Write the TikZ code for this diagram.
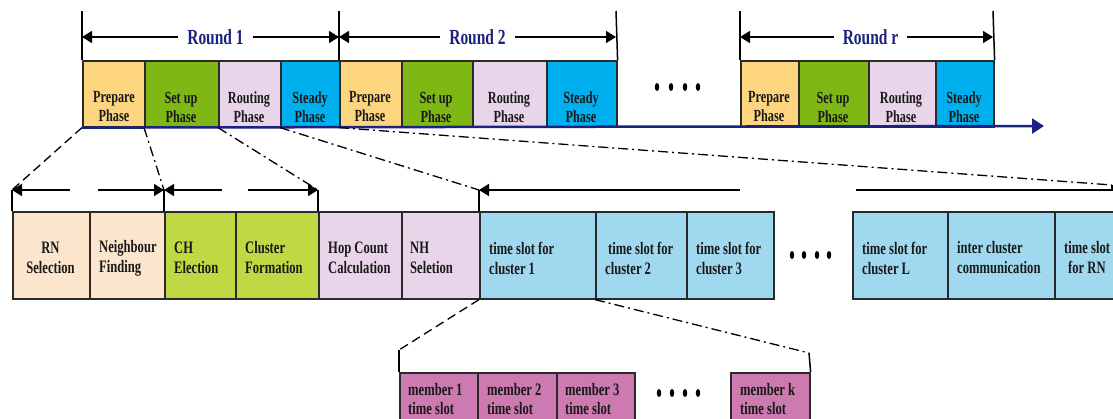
\documentclass[tikz,border=0pt]{standalone}
\usepackage{fontspec}
\setmainfont[FakeStretch=0.72]{Liberation Serif}
\usetikzlibrary{arrows.meta}
\definecolor{cprep}{HTML}{FDD57E}
\definecolor{csetup}{HTML}{7FB814}
\definecolor{crout}{HTML}{E9D5E9}
\definecolor{csteady}{HTML}{00B0EE}
\definecolor{cpeach}{HTML}{FCE5CD}
\definecolor{clime}{HTML}{C0D843}
\definecolor{cslot}{HTML}{A0D8EF}
\definecolor{cmem}{HTML}{CC7AB0}
\definecolor{cnavy}{HTML}{1A237E}
\definecolor{cborder}{HTML}{2A2A2A}
\newcommand\bx[6]{\node[box,fill=#6,anchor=north west,minimum width={(#4-#2)*1pt},minimum height={(#5-#3)*1pt}] (#1) at (#2,#3) {};}
\begin{document}
\begin{tikzpicture}[x=1pt,y=-1pt,
  box/.style={draw=cborder,line width=1.6pt,inner sep=0pt},
  phtxt/.style={font=\fontsize{17}{19}\selectfont\bfseries,align=center,inner sep=0pt,text=black!90},
  sltxt/.style={font=\fontsize{17.5}{20}\selectfont\bfseries,align=left,anchor=west,inner sep=0pt,text=black!90},
  mbtxt/.style={font=\fontsize{17.5}{18.5}\selectfont\bfseries,align=left,anchor=west,inner sep=0pt,text=black!90},
  rdtxt/.style={font=\fontsize{21.5}{24}\selectfont\bfseries,text=cnavy,fill=white,inner xsep=9pt,inner ysep=2pt},
  dimline/.style={line width=1.5pt,black},
  tip/.tip={Triangle[length=10pt,width=12pt]},
  tick/.style={line width=1.5pt,black},
  dashline/.style={line width=1.3pt,black,dash pattern=on 9pt off 5pt},
  dotline/.style={line width=1.3pt,black,dash pattern=on 10pt off 4pt on 2pt off 4pt},
  dot/.style={black}]
\useasboundingbox (0,0) rectangle (1113,418);

% ---------- top row boxes ----------
\bx{r1a}{82}{60}{144}{126}{cprep}
\bx{r1b}{144}{60}{218}{126}{csetup}
\bx{r1c}{218}{60}{280}{126}{crout}
\bx{r1d}{280}{60}{339}{126}{csteady}
\bx{r2a}{339}{60}{401}{126}{cprep}
\bx{r2b}{401}{60}{472}{126}{csetup}
\bx{r2c}{472}{60}{546}{126}{crout}
\bx{r2d}{546}{60}{616}{126}{csteady}
\bx{rra}{740}{60}{798}{126}{cprep}
\bx{rrb}{798}{60}{868}{126}{csetup}
\bx{rrc}{868}{60}{935}{126}{crout}
\bx{rrd}{935}{60}{993}{126}{csteady}

\node[phtxt] (t1a) at (114,107) {Prepare\\Phase};
\node[phtxt] (t1b) at (181,107) {Set up\\Phase};
\node[phtxt] (t1c) at (249,107) {Routing\\Phase};
\node[phtxt] (t1d) at (310,107) {Steady\\Phase};
\node[phtxt] (t2a) at (370,107) {Prepare\\Phase};
\node[phtxt] (t2b) at (436,107) {Set up\\Phase};
\node[phtxt] (t2c) at (509,107) {Routing\\Phase};
\node[phtxt] (t2d) at (581,107) {Steady\\Phase};
\node[phtxt] (tra) at (769,107) {Prepare\\Phase};
\node[phtxt] (trb) at (833,107) {Set up\\Phase};
\node[phtxt] (trc) at (901,107) {Routing\\Phase};
\node[phtxt] (trd) at (964,107) {Steady\\Phase};

% dots row 1
\foreach \x in {657,671,685,698} \fill[dot] (\x,87) ellipse (2.2 and 4);

% time axis
\coordinate (axend) at (1044,126);
\draw[cnavy,line width=2.5pt,-{Triangle[length=12pt,width=15pt]}] (r1a.south west) -- (axend);

% round dimension lines
\coordinate (v1) at (82,11);
\coordinate (v2) at (339,11);
\coordinate (v3) at (616,11);
\coordinate (v4) at (740,11);
\coordinate (v5) at (993,11);
\draw[tick] (v1) -- (r1a.north west);
\draw[tick] (v2) -- (r2a.north west);
\draw[tick] (v3) -- (r2d.north east);
\draw[tick] (v4) -- (rra.north west);
\draw[tick] (v5) -- (rrd.north east);
\coordinate (d1) at (82,37);
\coordinate (d2) at (339,37);
\coordinate (d3) at (616,37);
\coordinate (d4) at (740,37);
\coordinate (d5) at (993,37);
\draw[dimline,{tip}-{tip}] (d1) -- node[rdtxt,xshift=5pt] (lr1) {Round 1} (d2);
\draw[dimline,{tip}-{tip}] (d2) -- node[rdtxt] (lr2) {Round 2} (d3);
\draw[dimline,{tip}-{tip}] (d4) -- node[rdtxt,xshift=4pt] (lrr) {Round r} (d5);

% ---------- second row boxes ----------
\bx{s1}{12}{211}{89}{298}{cpeach}
\bx{s2}{89}{211}{164}{298}{cpeach}
\bx{s3}{164}{211}{235}{298}{clime}
\bx{s4}{235}{211}{318}{298}{clime}
\bx{s5}{318}{211}{401}{298}{crout}
\bx{s6}{401}{211}{479}{298}{crout}
\bx{s7}{479}{211}{595}{298}{cslot}
\bx{s8}{595}{211}{686}{298}{cslot}
\bx{s9}{686}{211}{773}{298}{cslot}
\bx{s10}{852}{211}{947}{298}{cslot}
\bx{s11}{947}{211}{1054}{298}{cslot}
\bx{s12}{1054}{211}{1150}{298}{cslot}

\node[sltxt,anchor=center,align=center] (u1) at (50.5,258) {RN\\Selection};
\node[sltxt] (u2) at (99,258) {Neighbour\\Finding};
\node[sltxt] (u3) at (174,258) {CH\\Election};
\node[sltxt] (u4) at (245,258) {Cluster\\Formation};
\node[sltxt] (u5) at (328,258) {Hop Count\\Calculation};
\node[sltxt] (u6) at (410,258) {NH\\Seletion};
\node[sltxt] (u7) at (489,258) {time slot for\\cluster 1};
\node[sltxt] (u8) at (605,258) {\hspace{3pt}time slot for\\cluster 2};
\node[sltxt] (u9) at (696,258) {time slot for\\cluster 3};
\node[sltxt] (u10) at (862,258) {time slot for\\cluster L};
\node[sltxt] (u11) at (957,258) {inter cluster\\communication};
\node[sltxt] (u12) at (1064,258) {time slot\\\hspace{4pt}for RN};

\foreach \x in {792,804,817,829} \fill[dot] (\x,255) ellipse (2.2 and 4);

% second row dimension lines
\coordinate (a1) at (12,190);
\coordinate (a2) at (164,190);
\coordinate (a3) at (318,190);
\coordinate (a4) at (479,190);
\coordinate (a5) at (1112,185);
\coordinate (a5b) at (1112,190);
\coordinate (g1) at (70,190);
\coordinate (g2) at (98,190);
\coordinate (g3) at (222,190);
\coordinate (g4) at (248,190);
\coordinate (g5) at (740,190);
\coordinate (g6) at (856,190);
\coordinate (g7) at (1113,190);
\draw[tick] (a1) -- (s1.north west);
\draw[tick] (a2) -- (s3.north west);
\draw[tick] (a3) -- (s5.north west);
\draw[tick] (a4) -- (s7.north west);
\draw[tick] (a5) -- (a5b);
\draw[dimline,{tip}-] (a1) -- (g1);
\draw[dimline,-{tip}] (g2) -- (a2);
\draw[dimline,{tip}-] (a2) -- (g3);
\draw[dimline,-{tip}] (g4) -- (a3);
\draw[dimline,{tip}-] (a4) -- (g5);
\draw[dimline] (g6) -- (g7);

% zoom connectors top -> second row
\draw[dashline] (r1a.south west) -- (a1);
\draw[dotline] (r1b.south west) -- (a2);
\draw[dotline] (r1c.south west) -- (a3);
\draw[dotline] (r1d.south west) -- (a4);
\draw[dotline] (r2a.south west) -- (a5);

% ---------- third row ----------
\bx{m1}{399}{372}{477}{430}{cmem}
\bx{m2}{477}{372}{556}{430}{cmem}
\bx{m3}{556}{372}{634}{430}{cmem}
\bx{mk}{730}{372}{809}{430}{cmem}
\node[mbtxt] (w1) at (408,399) {member 1\\time slot};
\node[mbtxt] (w2) at (487,399) {member 2\\time slot};
\node[mbtxt] (w3) at (565,399) {member 3\\time slot};
\node[mbtxt] (wk) at (740,399) {member k\\time slot};
\foreach \x in {659,672,685,698} \fill[dot] (\x,393) ellipse (2.2 and 4);

\coordinate (c1) at (399,350);
\coordinate (c2) at (809,353);
\draw[dashline] (s7.south west) -- (c1);
\draw[tick] (c1) -- (m1.north west);
\draw[dotline] (s8.south west) -- (c2);
\draw[tick] (c2) -- (mk.north east);
\end{tikzpicture}
\end{document}
